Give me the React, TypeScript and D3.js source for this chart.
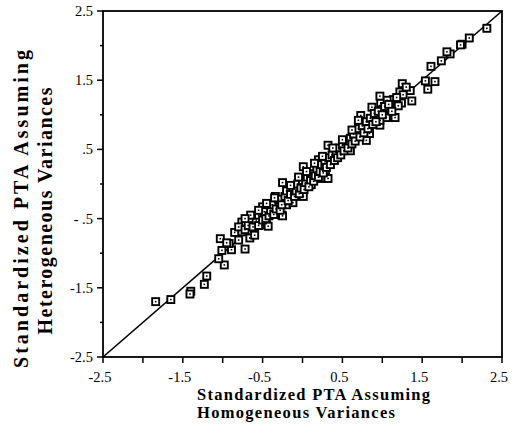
import React from "react";
import * as d3 from "d3";

const xTickValues = [-2.5, -1.5, -0.5, 0.5, 1.5, 2.5];
const xTickLabels = ["-2.5", "-1.5", "-0.5", "0.5", "1.5", "2.5"];
const yTickValues = [2.5, 1.5, 0.5, -0.5, -1.5, -2.5];
const yTickLabels = ["2.5", "1.5", ".5", "- .5", "-1.5", "-2.5"];
const minorTicks = [-2, -1, 0, 1, 2];

const homogeneous = [
  -1.84, -1.65, -1.40, -1.41, -1.23, -1.20, -0.98, -1.05, -1.01, -1.03, -0.89, -0.92, -0.95, -0.80,
  -0.72, -0.76, -0.70, -0.76, -0.60, -0.66, -0.45, -0.51, -0.43, -0.26, -0.20, -0.12, -0.32, -0.60,
  -0.43, -0.25, -0.25, 0.01, 0.11, 0.23, 0.32, 0.29, 0.01, 0.20, 0.32, 0.60, 0.80, 0.84, 0.73, 0.97,
  1.05, 1.15, 0.87, 0.98, 1.37, 1.24, -0.50, -0.34, -0.12, 0.45, 0.55, 0.68,
  2.31, 2.09, 2.00, 1.85, 1.81, 1.74, 1.61, 1.54, 1.66, 1.57, 1.35, 1.22, 1.14, 1.06, 0.97, 1.16,
  1.26, 1.01, 1.10, 1.20, 0.97, 1.98, 1.25, 1.30,
  -0.85, -0.80, -0.72, -0.68, -0.65, -0.62, -0.58, -0.55, -0.55, -0.50, -0.48, -0.46, -0.42, -0.40,
  -0.38, -0.36, -0.33, -0.30, -0.28, -0.26, -0.22, -0.20, -0.18, -0.15, -0.12, -0.10, -0.08, -0.06,
  -0.04, -0.02, 0.00, 0.02, 0.04, 0.06, 0.08, 0.10, 0.12, 0.14, 0.16, 0.18, 0.20, 0.22, 0.24, 0.26,
  0.28, 0.30, 0.33, 0.35, 0.37, 0.40, 0.42, 0.44, 0.46, 0.48, 0.50, 0.52, 0.55, 0.57, 0.60, 0.62,
  0.64, 0.66, 0.70, 0.72, 0.75, 0.77, 0.80, 0.82, 0.85, 0.88, 0.90, 0.92, 0.95, 1.00, 1.03, 1.08,
  1.12, 1.18, 0.70, 0.62, 0.50, 0.38, 0.25, 0.15, 0.05, -0.05, -0.15, -0.35, -0.45, -0.55, -0.65,
  -0.72,
];
const heterogeneous = [
  -1.70, -1.67, -1.55, -1.59, -1.45, -1.33, -1.17, -1.08, -0.96, -0.79, -0.95, -0.86, -0.85, -0.81,
  -0.94, -0.69, -0.55, -0.55, -0.73, -0.78, -0.59, -0.45, -0.33, -0.45, -0.30, -0.27, -0.28, -0.74,
  -0.61, -0.46, 0.02, -0.18, -0.01, 0.08, 0.08, 0.20, 0.25, 0.35, 0.56, 0.48, 0.63, 0.73, 0.99, 0.85,
  0.96, 0.96, 1.11, 1.17, 1.20, 1.17, -0.33, -0.18, -0.06, 0.47, 0.59, 0.73,
  2.25, 2.11, 2.02, 1.88, 1.91, 1.78, 1.70, 1.49, 1.48, 1.37, 1.35, 1.33, 1.22, 1.21, 1.27, 0.96,
  1.29, 1.08, 1.09, 1.13, 0.92, 2.01, 1.45, 1.40,
  -0.70, -0.62, -0.66, -0.60, -0.50, -0.62, -0.52, -0.60, -0.45, -0.52, -0.40, -0.50, -0.46, -0.38,
  -0.30, -0.44, -0.36, -0.22, -0.38, -0.30, -0.18, -0.10, -0.24, -0.15, -0.05, -0.18, -0.10, 0.00,
  -0.14, -0.06, 0.05, -0.08, 0.02, 0.10, -0.04, 0.06, 0.15, 0.04, 0.12, 0.22, 0.10, 0.18, 0.28, 0.16,
  0.30, 0.24, 0.38, 0.28, 0.42, 0.34, 0.46, 0.38, 0.52, 0.42, 0.56, 0.48, 0.62, 0.52, 0.66, 0.58,
  0.72, 0.62, 0.80, 0.68, 0.84, 0.74, 0.90, 0.80, 0.95, 0.86, 1.02, 0.90, 1.05, 1.00, 1.12, 1.15,
  1.05, 1.25, 0.92, 0.78, 0.64, 0.52, 0.40, 0.30, 0.18, 0.10, -0.02, -0.20, -0.28, -0.38, -0.45,
  -0.50,
];

const W = 515;
const H = 438;
const left = 103;
const right = 502;
const top = 11;
const bottom = 357;
const serif = "'Liberation Serif', 'Times New Roman', serif";

export default function App() {
  const x = d3.scaleLinear().domain([-2.5, 2.5]).range([left, right]);
  const y = d3.scaleLinear().domain([-2.5, 2.5]).range([bottom, top]);
  const pts = homogeneous.map((h, i) => [h, heterogeneous[i]] as [number, number]);
  const diag = d3.line<number>().x((d) => x(d)).y((d) => y(d))([-2.5, 2.5]) || "";
  const s = 7;

  return (
    <svg
      width={W}
      height={H}
      style={{ position: "absolute", left: 0, top: 0, background: "#fff" }}
    >
      <rect x={0} y={0} width={W} height={H} fill="#fff" />
      {/* frame */}
      <rect
        x={left}
        y={top}
        width={right - left}
        height={bottom - top}
        fill="none"
        stroke="#000"
        strokeWidth={1.8}
      />
      {/* diagonal */}
      <path d={diag} stroke="#000" strokeWidth={1.6} fill="none" />
      {/* x ticks */}
      {xTickValues.concat(minorTicks).map((v, i) => (
        <line
          key={"xt" + i}
          x1={x(v)}
          x2={x(v)}
          y1={bottom}
          y2={bottom + 6}
          stroke="#000"
          strokeWidth={1.5}
        />
      ))}
      {yTickValues.map((v, i) => (
        <line
          key={"yt" + i}
          x1={left - 6}
          x2={left}
          y1={y(v)}
          y2={y(v)}
          stroke="#000"
          strokeWidth={1.5}
        />
      ))}
      {minorTicks.map((v, i) => (
        <line
          key={"ym" + i}
          x1={left - 3}
          x2={left}
          y1={y(v)}
          y2={y(v)}
          stroke="#000"
          strokeWidth={1.5}
        />
      ))}
      {xTickValues.map((v, i) => (
        <text
          key={"xl" + i}
          x={x(v) - 3}
          y={381.5}
          textAnchor="middle"
          fontFamily={serif}
          fontSize={14.5}
          fill="#000"
        >
          {xTickLabels[i]}
        </text>
      ))}
      {yTickValues.map((v, i) => (
        <text
          key={"yl" + i}
          x={93}
          y={y(v) + 5}
          textAnchor="end"
          fontFamily={serif}
          fontSize={14.5}
          fill="#000"
        >
          {yTickLabels[i]}
        </text>
      ))}
      {/* points */}
      {pts.map((p, i) => (
        <g key={"p" + i}>
          <rect
            x={x(p[0]) - s / 2}
            y={y(p[1]) - s / 2}
            width={s}
            height={s}
            fill="#fff"
            stroke="#000"
            strokeWidth={1.9}
          />
          <rect x={x(p[0]) - 0.8} y={y(p[1]) - 0.8} width={1.6} height={1.6} fill="#000" />
        </g>
      ))}
      {/* x title */}
      <text
        x={197}
        y={399.5}
        fontFamily={serif}
        fontWeight="bold"
        fontSize={16.5}
        textLength={233}
        lengthAdjust="spacing"
        fill="#000"
      >
        Standardized PTA Assuming
      </text>
      <text
        x={197}
        y={418}
        fontFamily={serif}
        fontWeight="bold"
        fontSize={16.5}
        textLength={198}
        lengthAdjust="spacing"
        fill="#000"
      >
        Homogeneous Variances
      </text>
      {/* y title */}
      <text
        transform="translate(28,209) rotate(-90)"
        textAnchor="middle"
        fontFamily={serif}
        fontWeight="bold"
        fontSize={20}
        textLength={318}
        lengthAdjust="spacing"
        fill="#000"
      >
        Standardized PTA Assuming
      </text>
      <text
        transform="translate(52,211) rotate(-90)"
        textAnchor="middle"
        fontFamily={serif}
        fontWeight="bold"
        fontSize={20}
        textLength={247}
        lengthAdjust="spacing"
        fill="#000"
      >
        Heterogeneous Variances
      </text>
    </svg>
  );
}
